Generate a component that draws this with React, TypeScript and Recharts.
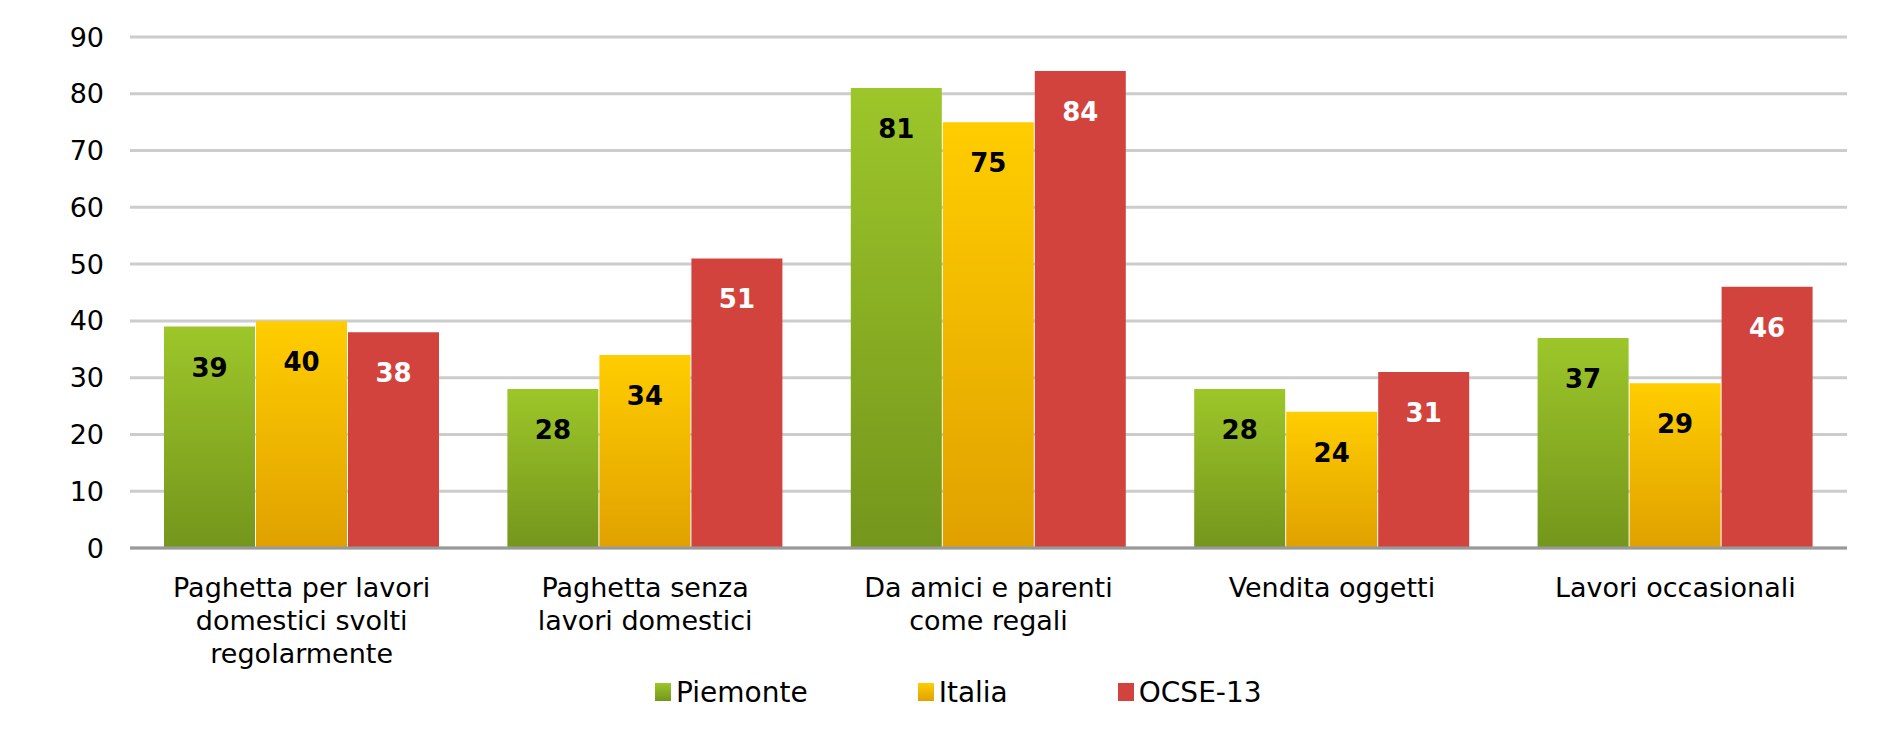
import { BarChart, Bar, XAxis, YAxis, CartesianGrid, Legend, LabelList } from 'recharts';

const categories = [
  'Paghetta per lavori\ndomestici svolti\nregolarmente',
  'Paghetta senza\nlavori domestici',
  'Da amici e parenti\ncome regali',
  'Vendita oggetti',
  'Lavori occasionali',
];
const piemonte = [39, 28, 81, 28, 37];
const italia = [40, 34, 75, 24, 29];
const ocse = [38, 51, 84, 31, 46];
const yTicks = [0, 10, 20, 30, 40, 50, 60, 70, 80, 90];

const seriesInfo = [
  { key: 'piemonte', name: 'Piemonte', top: '#9dc62a', bottom: '#74961c', label: '#000' },
  { key: 'italia', name: 'Italia', top: '#ffcd00', bottom: '#e0a100', label: '#000' },
  { key: 'ocse', name: 'OCSE-13', top: '#d3433e', bottom: '#d3433e', label: '#fff' },
];

const data = categories.map((c, i) => ({
  category: c,
  piemonte: piemonte[i],
  italia: italia[i],
  ocse: ocse[i],
}));

const FONT = '"DejaVu Sans", sans-serif';

function CategoryTick({ x, y, payload }: any) {
  const lines = String(payload.value).split('\n');
  return (
    <text x={x} y={y} textAnchor="middle" fill="#000" fontSize={27} fontFamily={FONT}>
      {lines.map((l, i) => (
        <tspan key={i} x={x} y={y + 49 + i * 33}>
          {l}
        </tspan>
      ))}
    </text>
  );
}

function makeLabel(color: string) {
  return (props: any) => {
    const { x, y, width, value } = props;
    return (
      <text
        x={x + width / 2}
        y={y + 50}
        textAnchor="middle"
        fill={color}
        fontSize={26}
        fontWeight="bold"
        fontFamily={FONT}
      >
        {value}
      </text>
    );
  };
}

function renderLegend() {
  return (
    <div
      style={{
        display: 'flex',
        alignItems: 'center',
        height: 32,
        fontFamily: FONT,
        fontSize: 28,
        color: '#000',
        whiteSpace: 'nowrap',
      }}
    >
      {seriesInfo.map((s) => (
        <div key={s.key} style={{ display: 'flex', alignItems: 'center', marginRight: 110 }}>
          <span
            style={{
              display: 'inline-block',
              width: 16,
              height: 18,
              background: `linear-gradient(${s.top}, ${s.bottom})`,
              marginRight: 5,
            }}
          />
          <span>{s.name}</span>
        </div>
      ))}
    </div>
  );
}

export default function App() {
  return (
    <div style={{ position: 'absolute', left: 0, top: 0, background: '#fff' }}>
      <BarChart
        width={1896}
        height={738}
        data={data}
        margin={{ top: 37, right: 49, left: 0, bottom: 70 }}
        barSize={91}
        barGap={1}
        style={{ fontFamily: FONT }}
      >
        <defs>
          {seriesInfo.map((s) => (
            <linearGradient key={s.key} id={`grad-${s.key}`} x1="0" y1="0" x2="0" y2="1">
              <stop offset="0%" stopColor={s.top} />
              <stop offset="100%" stopColor={s.bottom} />
            </linearGradient>
          ))}
        </defs>
        <CartesianGrid vertical={false} stroke="#cccccc" strokeWidth={3} />
        <XAxis
          dataKey="category"
          interval={0}
          height={120}
          tickLine={false}
          tickSize={0}
          tickMargin={0}
          axisLine={{ stroke: '#999999', strokeWidth: 3 }}
          tick={<CategoryTick />}
        />
        <YAxis
          domain={[0, 90]}
          ticks={yTicks}
          width={130}
          axisLine={false}
          tickLine={false}
          tickSize={0}
          tickMargin={26}
          tick={{ fill: '#000', fontSize: 27, fontFamily: FONT }}
        />
        <Legend
          layout="horizontal"
          verticalAlign="middle"
          align="center"
          content={renderLegend}
          wrapperStyle={{ left: 655, top: 676, width: 'auto', height: 32 }}
        />
        {seriesInfo.map((s) => (
          <Bar key={s.key} dataKey={s.key} name={s.name} fill={`url(#grad-${s.key})`} isAnimationActive={false}>
            <LabelList dataKey={s.key} content={makeLabel(s.label)} />
          </Bar>
        ))}
      </BarChart>
    </div>
  );
}
